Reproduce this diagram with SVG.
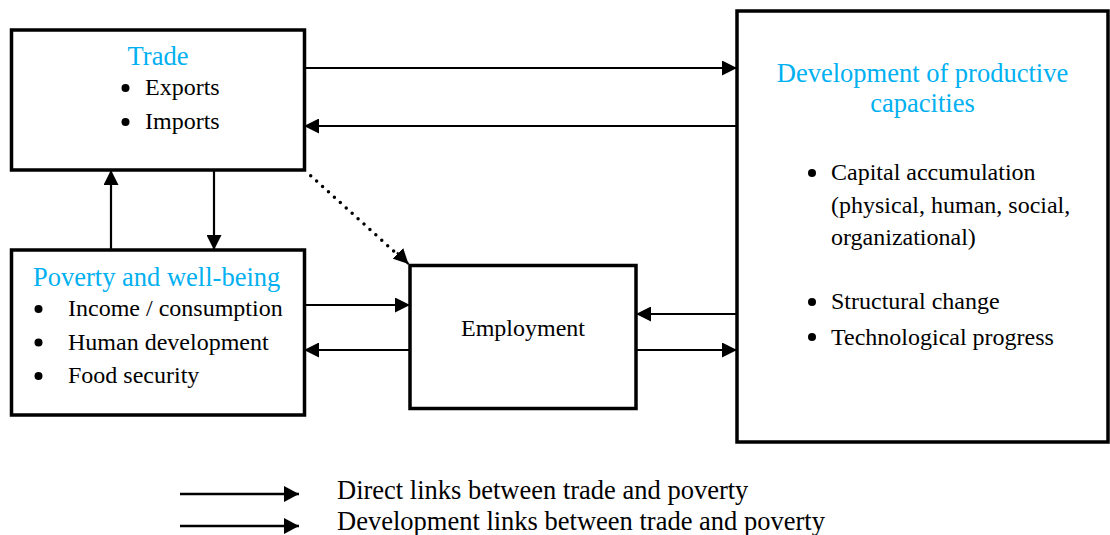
<svg xmlns="http://www.w3.org/2000/svg" width="1110" height="535" viewBox="0 0 1110 535">
  <style>
    .box { fill: #ffffff; stroke: #000000; stroke-width: 3.5; }
    .t { font-family: "Liberation Serif", "Times New Roman", serif; font-size: 24px; fill: #000000; }
    .title { font-family: "Liberation Serif", "Times New Roman", serif; font-size: 26.5px; fill: #00B0F0; }
    .leg { font-family: "Liberation Serif", "Times New Roman", serif; font-size: 26.5px; fill: #000000; }
    .conn { fill: none; stroke: #000000; stroke-width: 2.2; }
    .dot { fill: none; stroke: #000000; stroke-width: 3.5; stroke-linecap: round; stroke-dasharray: 0 8; }
    .legline { fill: none; stroke: #000000; stroke-width: 2.6; }
  </style>
  <defs>
    <marker id="ah" markerUnits="userSpaceOnUse" markerWidth="15" markerHeight="15" refX="15" refY="7.5" orient="auto">
      <path d="M0,0 L15,7.5 L0,15 Z" fill="#000000"/>
    </marker>
    <marker id="ahl" markerUnits="userSpaceOnUse" markerWidth="15" markerHeight="16" refX="15" refY="8" orient="auto">
      <path d="M0,0 L15,8 L0,16 Z" fill="#000000"/>
    </marker>
  </defs>
  <rect width="1110" height="535" fill="#ffffff"/>

  <g id="connectors">
    <path class="conn" d="M304,68 H737" marker-end="url(#ah)"/>
    <path class="conn" d="M737,126 H304" marker-end="url(#ah)"/>
    <path class="conn" d="M111,250 V170" marker-end="url(#ah)"/>
    <path class="conn" d="M214,170 V250" marker-end="url(#ah)"/>
    <path class="dot" d="M310.7,175.7 L398,255"/>
    <path class="conn" d="M397,252.5 L408.5,264" stroke="none" marker-end="url(#ah)"/>
    <path class="conn" d="M304,305 H410" marker-end="url(#ah)"/>
    <path class="conn" d="M410,350 H304" marker-end="url(#ah)"/>
    <path class="conn" d="M737,314 H636" marker-end="url(#ah)"/>
    <path class="conn" d="M636,350 H737" marker-end="url(#ah)"/>
  </g>

  <g id="trade">
    <rect class="box" x="11.5" y="30" width="293" height="140"/>
    <text class="title" x="158" y="65" text-anchor="middle">Trade</text>
    <circle cx="125.5" cy="88" r="4"/>
    <text class="t" x="145" y="95">Exports</text>
    <circle cx="125.5" cy="122" r="4"/>
    <text class="t" x="145" y="129">Imports</text>
  </g>

  <g id="poverty">
    <rect class="box" x="11.5" y="250" width="293" height="165"/>
    <text class="title" x="33" y="286">Poverty and well-being</text>
    <circle cx="38.5" cy="309" r="4"/>
    <text class="t" x="68" y="316">Income / consumption</text>
    <circle cx="38.5" cy="342.5" r="4"/>
    <text class="t" x="68" y="350">Human development</text>
    <circle cx="38.5" cy="376" r="4"/>
    <text class="t" x="68" y="383">Food security</text>
  </g>

  <g id="employment">
    <rect class="box" x="410" y="265.5" width="226" height="143"/>
    <text class="t" x="523" y="336" text-anchor="middle">Employment</text>
  </g>

  <g id="development">
    <rect class="box" x="737" y="11" width="371" height="431"/>
    <text class="title" x="922.5" y="82" text-anchor="middle">Development of productive</text>
    <text class="title" x="922.5" y="112" text-anchor="middle">capacities</text>
    <circle cx="812" cy="173" r="4"/>
    <text class="t" x="831" y="180">Capital accumulation</text>
    <text class="t" x="831" y="213">(physical, human, social,</text>
    <text class="t" x="831" y="244.5">organizational)</text>
    <circle cx="812" cy="302" r="4"/>
    <text class="t" x="831" y="309">Structural change</text>
    <circle cx="812" cy="337" r="4"/>
    <text class="t" x="831" y="344.5">Technological progress</text>
  </g>

  <g id="legend">
    <path class="legline" d="M180,494 H299" marker-end="url(#ahl)"/>
    <text class="leg" x="337" y="499">Direct links between trade and poverty</text>
    <path class="legline" d="M180,526 H299" marker-end="url(#ahl)"/>
    <text class="leg" x="337" y="530">Development links between trade and poverty</text>
  </g>
</svg>
